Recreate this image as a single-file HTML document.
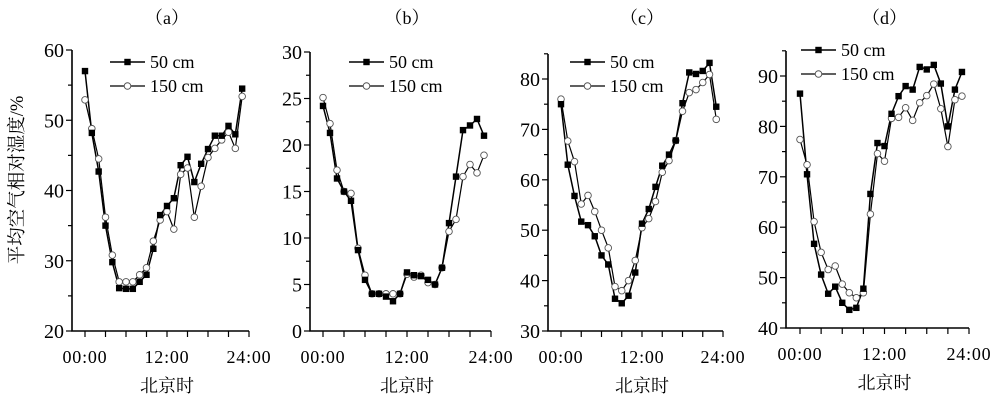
<!DOCTYPE html>
<html><head><meta charset="utf-8"><style>
html,body{margin:0;padding:0;background:#fff;}
svg{display:block;font-family:"Liberation Serif","Noto Serif CJK SC",serif;}
</style></head><body>
<svg id="s" width="1000" height="414" xmlns="http://www.w3.org/2000/svg"></svg>
<script>
const P=[
{t:"（a）",ax:72,x0:85,x1:249,yb:331,yt:50,vmin:20,vmax:60,ticks:[20,30,40,50,60],minor:5,top:50,
a:[57,48.2,42.7,35,29.8,26.1,26,26,27,28,31.7,36.5,37.8,38.9,43.6,44.8,41.2,43.8,45.9,47.8,47.8,49.2,48,54.5],
b:[52.9,48.8,44.5,36.2,30.8,27,27,27,28,29,32.8,35.8,37,34.5,42.3,43.2,36.2,40.6,44.7,46,47.2,48.3,46,53.4],lx:110,ly:62},
{t:"（b）",ax:310,x0:323,x1:491,yb:331,yt:52,vmin:0,vmax:30,ticks:[0,5,10,15,20,25,30],minor:2.5,top:52,
a:[24.2,21.3,16.4,15,14,8.7,5.5,4,4,3.7,3.2,4,6.3,6,5.9,5.5,5,6.8,11.6,16.6,21.6,22.1,22.8,21],
b:[25.1,22.3,17.3,15,14.8,8.9,6,4,4,4,4,4,6.1,5.8,6,5.2,5,6.8,10.7,12,16.6,17.9,17,18.9],lx:349,ly:62},
{t:"（c）",ax:548,x0:561,x1:723,yb:331,yt:79,vmin:30,vmax:80,ticks:[30,40,50,60,70,80],minor:5,top:54,
a:[75,63,56.8,51.7,51,48.8,45,43.2,36.4,35.5,37,41.6,51.3,54.2,58.6,62.8,65,67.8,75.2,81.3,81,81.6,83.2,74.5],
b:[76,67.7,63.6,55.2,56.9,53.7,50,46.5,38.8,38,40,44,50.5,52.3,55.7,61.5,63.8,67.8,73.6,77.3,77.9,79.3,80.9,72],lx:570,ly:62},
{t:"（d）",ax:786,x0:800,x1:969,yb:328,yt:76,vmin:40,vmax:90,ticks:[40,50,60,70,80,90],minor:5,top:51,
a:[86.5,70.5,56.7,50.6,46.8,48.2,45,43.6,44,47.8,66.6,76.7,76.1,82.5,86,88,87.3,91.8,91.3,92.2,88.5,80,87.3,90.8],
b:[77.4,72.4,61.1,55,51.6,52.3,48.7,47,46,47,62.6,74.6,73.1,81.6,81.8,83.7,81.2,84.7,86.1,88.4,83.5,76,85.3,86],lx:801,ly:50}
];
let h='';
for(const p of P){
 const Y=v=>p.yb-(v-p.vmin)*(p.yb-p.yt)/(p.vmax-p.vmin);
 const X=i=>p.x0+i*(p.x1-p.x0)/24;
 h+=`<text x="${(p.x0+p.x1)/2}" y="24" font-size="18" text-anchor="middle">${p.t}</text>`;
 h+=`<path d="M${p.ax} ${p.top}V${p.yb}H${p.x1}" fill="none" stroke="#000" stroke-width="1.6"/>`;
 for(let v=p.vmin;;v+=p.minor){
  const y=Y(v); if(y<p.top-1)break;
  const major=p.ticks.some(t=>Math.abs(t-v)<0.01);
  h+=`<line x1="${p.ax-(major?6:4)}" x2="${p.ax}" y1="${y}" y2="${y}" stroke="#000" stroke-width="1.2"/>`;
 }
 for(const t of p.ticks) h+=`<text x="${p.ax-8}" y="${Y(t)+7}" font-size="20" text-anchor="end">${t}</text>`;
 for(let k=0;k<=8;k++){const x=X(k*3);h+=`<line x1="${x}" x2="${x}" y1="${p.yb}" y2="${p.yb+6}" stroke="#000" stroke-width="1.2"/>`;}
 [["00:00",0],["12:00",12],["24:00",24]].forEach(([s,i])=>h+=`<text x="${X(i)}" y="${p.yb+32}" font-size="18" text-anchor="middle" letter-spacing="0.8">${s}</text>`);
 h+=`<text x="${(p.x0+p.x1)/2}" y="${p.yb+61}" font-size="18" text-anchor="middle">北京时</text>`;
 const pa=p.a.map((v,i)=>X(i).toFixed(1)+','+Y(v).toFixed(1)).join(' ');
 const pb=p.b.map((v,i)=>X(i).toFixed(1)+','+Y(v).toFixed(1)).join(' ');
 h+=`<polyline points="${pb}" fill="none" stroke="#000" stroke-width="1.2"/>`;
 h+=`<polyline points="${pa}" fill="none" stroke="#000" stroke-width="1.5"/>`;
 p.b.forEach((v,i)=>h+=`<circle cx="${X(i)}" cy="${Y(v)}" r="3.3" fill="#fff" stroke="#555" stroke-width="0.9"/>`);
 p.a.forEach((v,i)=>h+=`<rect x="${X(i)-3.2}" y="${Y(v)-3.2}" width="6.4" height="6.4" fill="#000"/>`);
 const lx=p.lx,ly=p.ly;
 h+=`<line x1="${lx}" x2="${lx+35}" y1="${ly}" y2="${ly}" stroke="#000" stroke-width="1.5"/><rect x="${lx+14.3}" y="${ly-3.2}" width="6.4" height="6.4"/>`;
 h+=`<text x="${lx+40}" y="${ly+6}" font-size="18">50 cm</text>`;
 h+=`<line x1="${lx}" x2="${lx+35}" y1="${ly+24}" y2="${ly+24}" stroke="#000" stroke-width="1.2"/><circle cx="${lx+17.5}" cy="${ly+24}" r="3.3" fill="#fff" stroke="#555"/>`;
 h+=`<text x="${lx+40}" y="${ly+30}" font-size="18">150 cm</text>`;
}
h+=`<text transform="translate(23,180) rotate(-90)" font-size="18.5" text-anchor="middle">平均空气相对湿度/%</text>`;
document.getElementById('s').innerHTML=h;
</script>
</body></html>
